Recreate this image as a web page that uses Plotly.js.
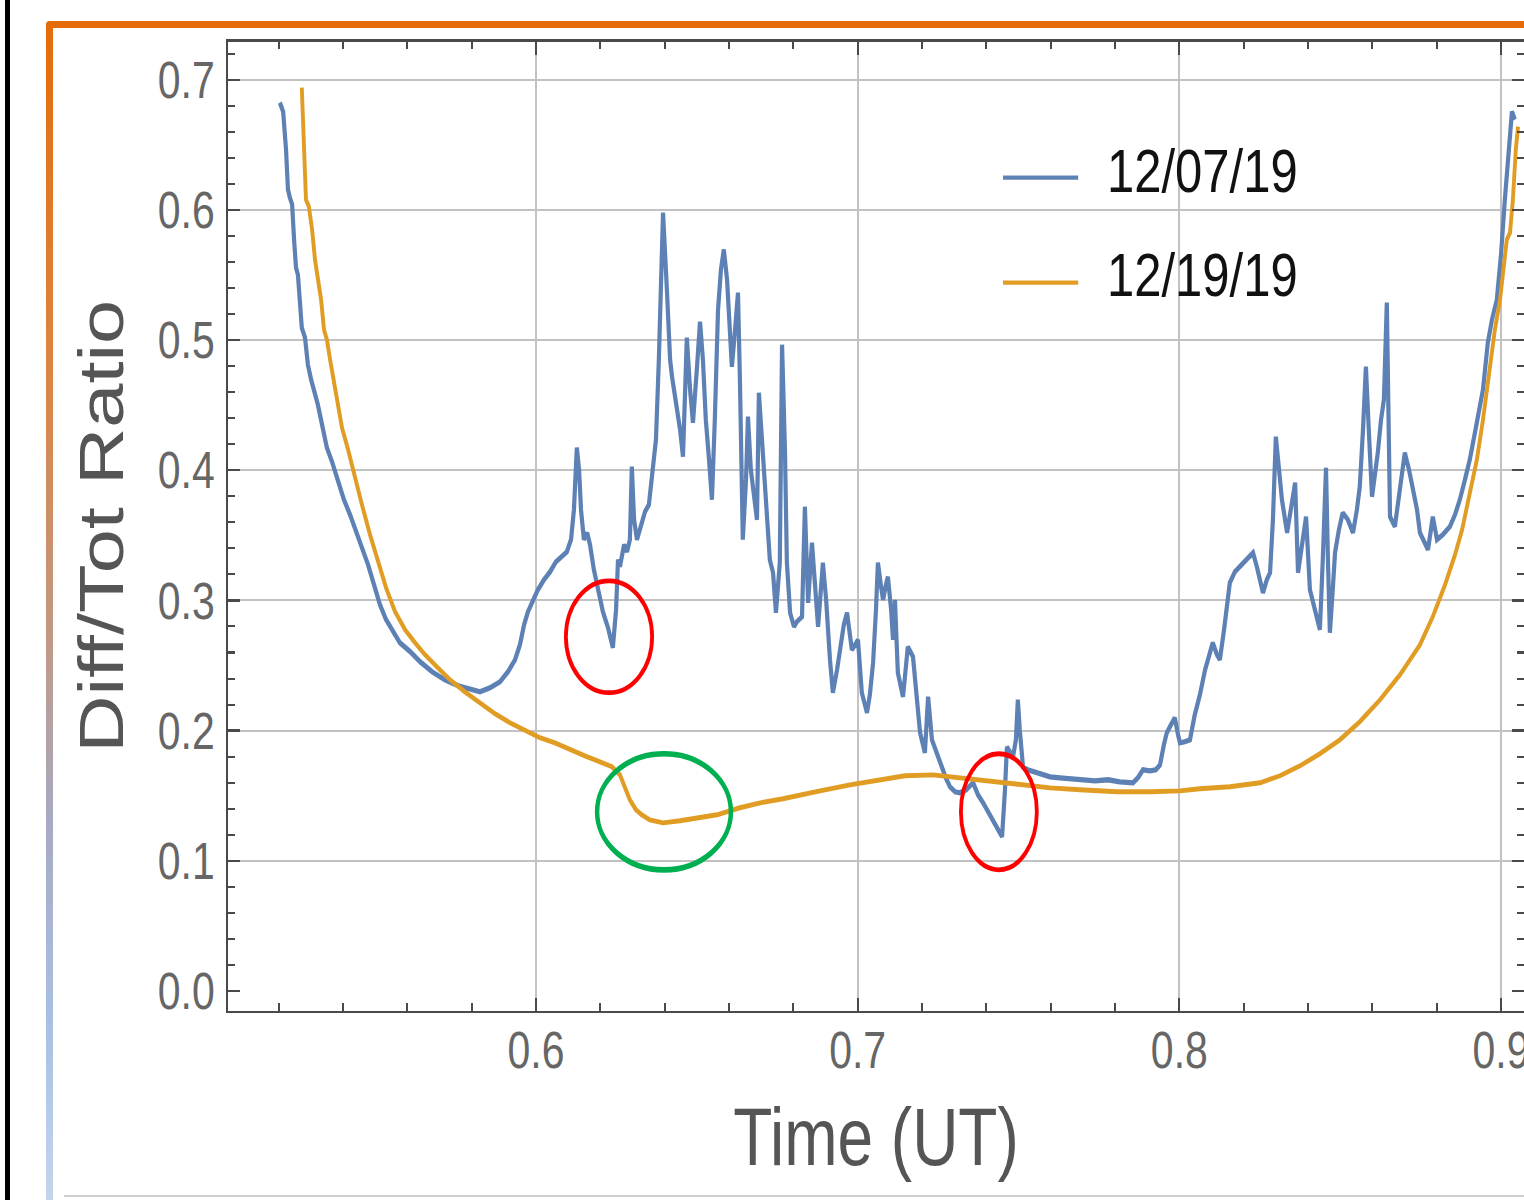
<!DOCTYPE html>
<html><head><meta charset="utf-8">
<script src="https://cdn.plot.ly/plotly-3.0.1.min.js"></script>
<style>
html,body{margin:0;padding:0;background:#fff;width:1524px;height:1200px;overflow:hidden}
#chart{position:absolute;left:0;top:0;width:1524px;height:952px;transform:scaleY(1.26050);transform-origin:0 0}
.deco{position:absolute;pointer-events:none}
</style></head><body>
<div id="chart"></div>
<div class="deco" style="left:5px;top:0;width:5px;height:1200px;background:#000"></div>
<div class="deco" style="left:46px;top:21px;width:1478px;height:7px;background:#E46C0A;border-top-left-radius:4px"></div>
<div class="deco" style="left:46px;top:21px;width:7px;height:1179px;border-top-left-radius:4px;background:linear-gradient(to bottom,#E46C0A 0%,#DC8440 28%,#C4967C 50%,#A7AAC4 68%,#A9C0E2 85%,#C2D5EE 100%)"></div>
<div class="deco" style="left:64px;top:1195px;width:1460px;height:2px;background:#cfcfcf"></div>
<script>
const seriesNames = ['12/07/19', '12/19/19'];
const seriesColors = ['#5E81B5', '#E19C24'];

const timeBlue = [0.5204,0.5214,0.5223,0.5229,0.5235,0.5242,0.5248,0.5254,0.5260,0.5266,
0.5272,0.5282,0.5291,0.5301,0.5310,0.5322,0.5335,0.5350,0.5366,0.5384,
0.5403,0.5422,0.5440,0.5459,0.5478,0.5496,0.5515,0.5534,0.5555,0.5577,
0.5609,0.5640,0.5677,0.5717,0.5758,0.5795,0.5826,0.5857,0.5888,0.5913,
0.5935,0.5950,0.5963,0.5975,0.5991,0.6006,0.6025,0.6044,0.6062,0.6081,
0.6096,0.6109,0.6118,0.6127,0.6134,0.6140,0.6149,0.6159,0.6168,0.6180,
0.6193,0.6208,0.6224,0.6239,0.6249,0.6255,0.6261,0.6274,0.6283,0.6292,
0.6298,0.6305,0.6314,0.6326,0.6339,0.6351,0.6364,0.6373,0.6382,0.6395,
0.6407,0.6417,0.6423,0.6435,0.6448,0.6457,0.6469,0.6479,0.6488,0.6500,
0.6510,0.6519,0.6528,0.6538,0.6547,0.6556,0.6566,0.6575,0.6584,0.6594,
0.6603,0.6609,0.6619,0.6628,0.6634,0.6643,0.6653,0.6659,0.6668,0.6678,
0.6687,0.6693,0.6706,0.6718,0.6727,0.6737,0.6746,0.6758,0.6765,0.6774,
0.6780,0.6790,0.6802,0.6811,0.6827,0.6836,0.6846,0.6858,0.6867,0.6877,
0.6892,0.6902,0.6914,0.6923,0.6936,0.6945,0.6957,0.6967,0.6982,0.6992,
0.7001,0.7013,0.7029,0.7038,0.7048,0.7057,0.7063,0.7072,0.7079,0.7088,
0.7094,0.7104,0.7110,0.7116,0.7125,0.7141,0.7156,0.7172,0.7181,0.7194,
0.7209,0.7219,0.7231,0.7247,0.7262,0.7274,0.7287,0.7303,0.7318,0.7337,
0.7359,0.7374,0.7390,0.7405,0.7421,0.7436,0.7449,0.7458,0.7464,0.7473,
0.7483,0.7492,0.7498,0.7504,0.7514,0.7529,0.7551,0.7573,0.7598,0.7629,
0.7660,0.7700,0.7738,0.7778,0.7815,0.7856,0.7871,0.7887,0.7909,0.7927,
0.7940,0.7952,0.7961,0.7974,0.7986,0.7996,0.8002,0.8017,0.8033,0.8048,
0.8064,0.8080,0.8095,0.8104,0.8117,0.8126,0.8139,0.8148,0.8157,0.8173,
0.8188,0.8204,0.8220,0.8229,0.8241,0.8251,0.8260,0.8272,0.8282,0.8291,
0.8300,0.8310,0.8319,0.8335,0.8347,0.8360,0.8369,0.8381,0.8394,0.8406,
0.8422,0.8437,0.8446,0.8456,0.8462,0.8468,0.8477,0.8484,0.8496,0.8508,
0.8524,0.8540,0.8552,0.8561,0.8571,0.8580,0.8589,0.8599,0.8608,0.8617,
0.8627,0.8636,0.8645,0.8652,0.8655,0.8670,0.8686,0.8701,0.8714,0.8726,
0.8739,0.8748,0.8764,0.8773,0.8788,0.8801,0.8819,0.8841,0.8857,0.8872,
0.8888,0.8903,0.8919,0.8934,0.8944,0.8959,0.8972,0.8987,0.9000,0.9012,
0.9021,0.9031,0.9034,0.9043];

const ratioBlue = [0.6825,0.6756,0.6464,0.6157,0.6095,0.6042,0.5772,0.5557,0.5503,0.5311,
0.5096,0.5019,0.4812,0.4696,0.4620,0.4504,0.4350,0.4174,0.4066,0.3928,
0.3774,0.3659,0.3543,0.3405,0.3274,0.3121,0.2967,0.2852,0.2759,0.2675,
0.2606,0.2529,0.2452,0.2390,0.2344,0.2314,0.2298,0.2329,0.2375,0.2452,
0.2544,0.2659,0.2813,0.2913,0.3005,0.3082,0.3159,0.3221,0.3297,0.3344,
0.3374,0.3467,0.3697,0.4174,0.4005,0.3697,0.3467,0.3520,0.3428,0.3236,
0.3082,0.2913,0.2790,0.2636,0.2929,0.3313,0.3259,0.3428,0.3374,0.3467,
0.4028,0.3620,0.3467,0.3582,0.3682,0.3736,0.4005,0.4235,0.4850,0.5980,
0.5388,0.4850,0.4719,0.4543,0.4312,0.4105,0.5019,0.4620,0.4366,0.4773,
0.5142,0.4850,0.4389,0.4082,0.3774,0.4389,0.5234,0.5542,0.5696,0.5465,
0.5081,0.4796,0.5081,0.5365,0.4696,0.3467,0.3928,0.4412,0.4005,0.3774,
0.3620,0.4596,0.4082,0.3597,0.3313,0.3213,0.2905,0.3290,0.4965,0.4158,
0.3290,0.2905,0.2798,0.2836,0.2875,0.3720,0.2982,0.3444,0.3082,0.2798,
0.3290,0.3005,0.2544,0.2291,0.2467,0.2621,0.2813,0.2905,0.2621,0.2659,
0.2698,0.2291,0.2137,0.2275,0.2521,0.2929,0.3290,0.3121,0.3005,0.3121,
0.3182,0.2929,0.2698,0.3005,0.2444,0.2260,0.2644,0.2567,0.2314,0.1983,
0.1829,0.2260,0.1929,0.1814,0.1722,0.1637,0.1568,0.1530,0.1522,0.1545,
0.1599,0.1507,0.1445,0.1376,0.1299,0.1238,0.1184,0.1545,0.1875,0.1837,
0.1799,0.1929,0.2237,0.2006,0.1722,0.1699,0.1683,0.1660,0.1645,0.1637,
0.1629,0.1622,0.1614,0.1622,0.1606,0.1599,0.1637,0.1699,0.1691,0.1699,
0.1737,0.1891,0.1983,0.2045,0.2098,0.1968,0.1906,0.1914,0.1929,0.2121,
0.2275,0.2467,0.2583,0.2675,0.2583,0.2544,0.2775,0.2952,0.3136,0.3221,
0.3259,0.3297,0.3336,0.3367,0.3259,0.3159,0.3059,0.3159,0.3213,0.3620,
0.4258,0.4005,0.3774,0.3520,0.3697,0.3905,0.3213,0.3428,0.3643,0.3082,
0.2929,0.2775,0.3313,0.4020,0.3313,0.2752,0.3082,0.3367,0.3543,0.3674,
0.3620,0.3520,0.3697,0.3874,0.4312,0.4796,0.4312,0.3797,0.3966,0.4135,
0.4389,0.4543,0.5288,0.4389,0.3643,0.3567,0.3851,0.4135,0.4005,0.3874,
0.3697,0.3520,0.3428,0.3390,0.3643,0.3467,0.3505,0.3567,0.3659,0.3774,
0.3928,0.4082,0.4289,0.4466,0.4620,0.4981,0.5158,0.5311,0.5657,0.6080,
0.6387,0.6656,0.6756,0.6695];

const timeOrange = [0.5272,0.5279,0.5285,0.5294,0.5304,0.5313,0.5322,0.5332,0.5341,0.5350,
0.5360,0.5370,0.5381,0.5397,0.5416,0.5437,0.5459,0.5484,0.5509,0.5534,
0.5562,0.5593,0.5624,0.5655,0.5692,0.5733,0.5779,0.5826,0.5873,0.5919,
0.5966,0.6012,0.6059,0.6106,0.6152,0.6199,0.6236,0.6261,0.6277,0.6292,
0.6311,0.6329,0.6354,0.6395,0.6448,0.6510,0.6563,0.6634,0.6697,0.6768,
0.6821,0.6883,0.6976,0.7069,0.7147,0.7234,0.7318,0.7411,0.7495,0.7598,
0.7691,0.7806,0.7909,0.8002,0.8064,0.8157,0.8251,0.8313,0.8375,0.8437,
0.8499,0.8561,0.8624,0.8686,0.8748,0.8788,0.8826,0.8857,0.8879,0.8903,
0.8925,0.8944,0.8965,0.8981,0.8997,0.9009,0.9018,0.9028,0.9037,0.9046,
0.9053];

const ratioOrange = [0.6941,0.6464,0.6080,0.6026,0.5849,0.5619,0.5488,0.5311,0.5081,0.5004,
0.4850,0.4696,0.4543,0.4327,0.4158,0.3943,0.3736,0.3505,0.3297,0.3098,
0.2913,0.2775,0.2675,0.2583,0.2490,0.2390,0.2298,0.2214,0.2129,0.2060,
0.1998,0.1945,0.1906,0.1852,0.1806,0.1760,0.1722,0.1660,0.1568,0.1468,
0.1391,0.1353,0.1314,0.1291,0.1307,0.1330,0.1353,0.1407,0.1445,0.1476,
0.1507,0.1537,0.1583,0.1622,0.1653,0.1660,0.1637,0.1614,0.1591,0.1560,
0.1545,0.1530,0.1530,0.1537,0.1553,0.1568,0.1599,0.1653,0.1729,0.1822,
0.1929,0.2068,0.2237,0.2429,0.2659,0.2875,0.3121,0.3351,0.3543,0.3812,
0.4082,0.4389,0.4773,0.5081,0.5311,0.5542,0.5772,0.5826,0.6080,0.6464,
0.6641];

// highlighted regions [t0, t1, r0, r1] and their outline colours
const highlightBoxes = [[0.6093, 0.6361, 0.2291, 0.3151], [0.7321, 0.7557, 0.0930, 0.1822], [0.6190, 0.6606, 0.0930, 0.1822]];
const highlightColors = ['#FF0000', '#FF0000', '#00B050'];

const yGridVals = [0.1, 0.2, 0.3, 0.4, 0.5, 0.6, 0.7];

const FONT = '"Liberation Sans", Arial, sans-serif';
const AX = '#4a4a4a';
const GRID = '#c2c2c2';
const xRange = [0.50426, 0.90715];
const yRange = [-0.0154, 0.7294];

const traces = [
  {x: timeBlue, y: ratioBlue, type: 'scatter', mode: 'lines', name: seriesNames[0],
   line: {color: seriesColors[0], width: 4.2}, yaxis: 'y'},
  {x: timeOrange, y: ratioOrange, type: 'scatter', mode: 'lines', name: seriesNames[1],
   line: {color: seriesColors[1], width: 3.9}, yaxis: 'y2'}
];

const shapes = highlightBoxes.map((b, i) => ({
  type: 'circle', xref: 'x', yref: 'y', x0: b[0], x1: b[1], y0: b[2], y1: b[3],
  line: {color: highlightColors[i], width: i === 2 ? 4.5 : 3.8}, layer: 'above'
}));
const legendY = [0.8596, 0.7513];
const annotations = [];
seriesNames.forEach((n, i) => {
  shapes.push({type: 'line', xref: 'paper', yref: 'paper', x0: 0.598, x1: 0.656, y0: legendY[i], y1: legendY[i],
    line: {color: seriesColors[i], width: 3.4}});
  annotations.push({xref: 'paper', yref: 'paper', x: 0.6767, y: legendY[i] + 0.008, xanchor: 'left', yanchor: 'middle',
    text: n, showarrow: false, font: {family: FONT, size: 49, color: '#111'}});
});

const layout = {
  width: 1524, height: 952,
  margin: {l: 228, r: 0, t: 33, b: 150, pad: 0},
  paper_bgcolor: 'rgba(0,0,0,0)', plot_bgcolor: '#ffffff',
  showlegend: false,
  font: {family: FONT, color: '#5a5a5a'},
  xaxis: {
    range: xRange, dtick: 0.1, tick0: 0, tickformat: '.1f',
    ticks: 'inside', ticklen: 10.5, tickwidth: 2, tickcolor: AX,
    showline: true, linecolor: AX, linewidth: 1.8, mirror: 'ticks',
    showgrid: true, gridcolor: GRID, gridwidth: 2, zeroline: false,
    tickfont: {family: FONT, size: 41, color: '#666'}, ticklabelstandoff: -6,
    ticklabeloverflow: 'allow',
    minor: {dtick: 0.02, tick0: 0, ticks: 'inside', ticklen: 6, tickwidth: 2, tickcolor: AX, showgrid: false},
    title: {text: 'Time (UT)', font: {family: FONT, size: 64, color: '#555'}, standoff: 24},
    automargin: false
  },
  yaxis: {
    range: yRange, dtick: 0.1, tick0: 0, tickformat: '.1f',
    ticks: 'inside', ticklen: 12, tickwidth: 1.8, tickcolor: AX,
    showline: true, linecolor: AX, linewidth: 2, mirror: 'ticks',
    showgrid: false, zeroline: false,
    tickfont: {family: FONT, size: 41, color: '#666'}, ticklabelstandoff: 3,
    minor: {dtick: 0.02, tick0: 0, ticks: 'inside', ticklen: 7, tickwidth: 1.6, tickcolor: AX, showgrid: false},
    title: {text: 'Diff/Tot Ratio', font: {family: FONT, size: 63, color: '#555'}, standoff: 14},
    automargin: false
  },
  yaxis2: {
    overlaying: 'y', range: yRange, tickvals: yGridVals, showticklabels: false, ticks: '',
    showgrid: true, gridcolor: GRID, gridwidth: 1.6, showline: false, zeroline: false
  },
  shapes: shapes,
  annotations: annotations
};

Plotly.newPlot('chart', traces, layout, {displayModeBar: false, staticPlot: true});
</script>
</body></html>
